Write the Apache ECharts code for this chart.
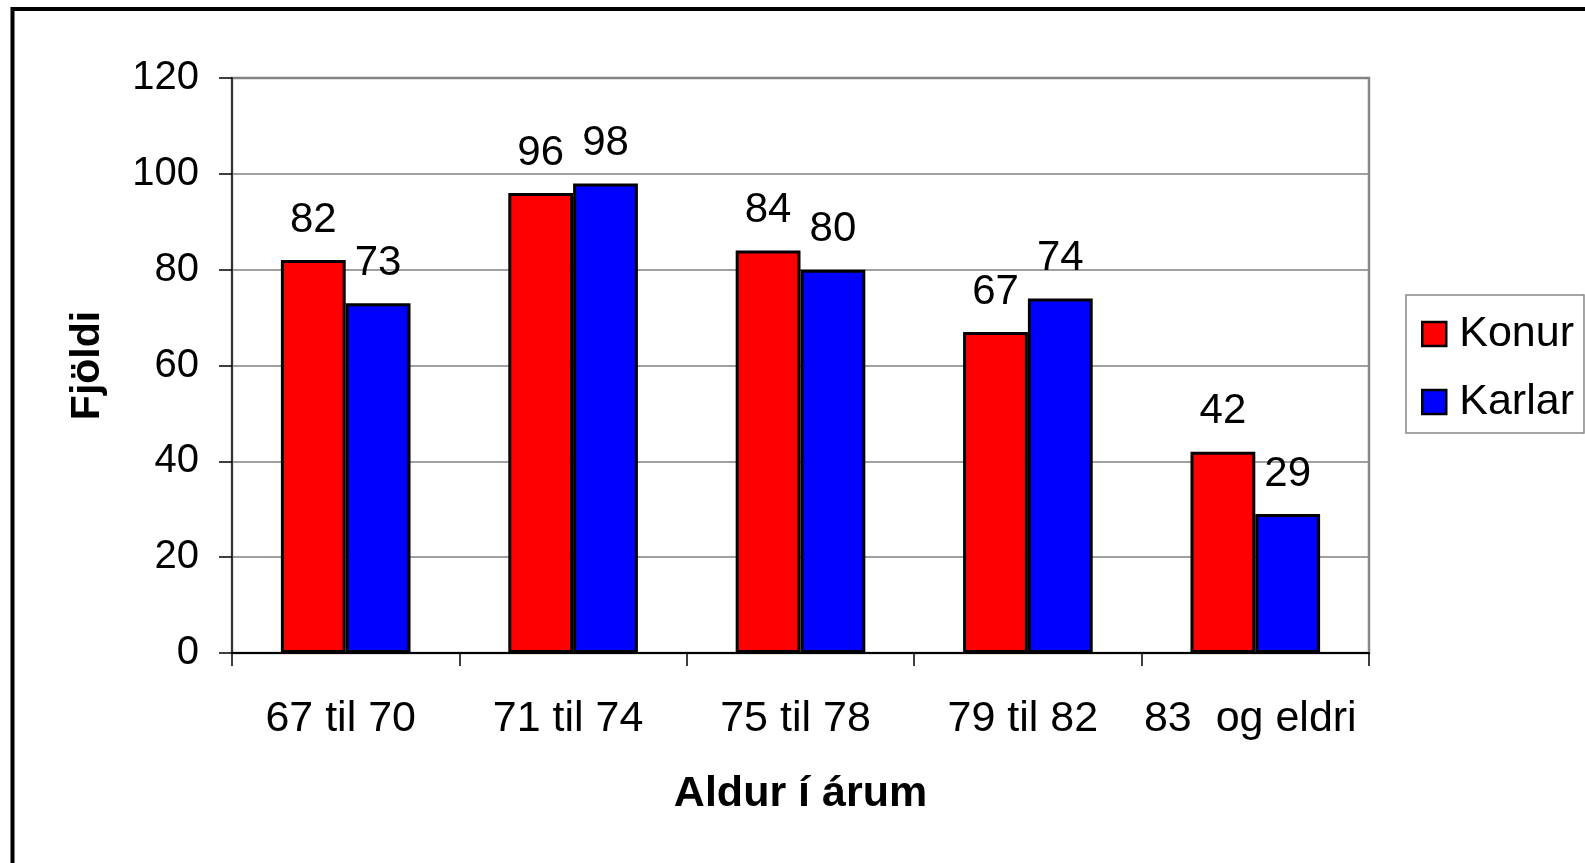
<!DOCTYPE html>
<html>
<head>
<meta charset="utf-8">
<script src="https://cdn.jsdelivr.net/npm/echarts@6/dist/echarts.min.js"></script>
<style>
html,body{margin:0;padding:0;background:#fff;}
#c{width:1585px;height:863px;}
</style>
</head>
<body>
<div id="c"></div>
<script>
const categories = ['67 til 70', '71 til 74', '75 til 78', '79 til 82', '83  og eldri'];
const konur = [82, 96, 84, 67, 42];
const karlar = [73, 98, 80, 74, 29];
const seriesNames = ['Konur', 'Karlar'];
const yTitle = 'Fjöldi';
const xTitle = 'Aldur í árum';

const FONT = '"Liberation Sans", Arial, sans-serif';
const chart = echarts.init(document.getElementById('c'));

const labelCfg = {
  show: true, position: 'top', distance: 19,
  color: '#000', fontSize: 42, fontFamily: FONT
};

chart.setOption({
  animation: false,
  backgroundColor: '#fff',
  graphic: [{
    type: 'rect', silent: true, z: 100,
    shape: { x: 12.5, y: 9, width: 1620, height: 900 },
    style: { fill: 'none', stroke: '#000', lineWidth: 4 }
  }],
  grid: {
    left: 232, top: 78, right: 216, bottom: 210,
    show: true, borderColor: '#888', borderWidth: 2.5, backgroundColor: 'transparent'
  },
  legend: {
    orient: 'vertical',
    left: 1406, top: 295,
    data: seriesNames,
    icon: 'rect',
    itemWidth: 24, itemHeight: 24,
    itemGap: 22,
    padding: [16, 10, 8, 15],
    borderColor: '#888', borderWidth: 1.5,
    itemStyle: { borderColor: '#000', borderWidth: 2.5 },
    textStyle: { fontSize: 43, fontFamily: FONT, color: '#000', lineHeight: 46, padding: [0, 0, 0, 8] }
  },
  xAxis: {
    type: 'category',
    data: categories,
    name: xTitle,
    nameLocation: 'middle',
    nameGap: 120,
    nameTextStyle: { fontSize: 43, fontWeight: 'bold', fontFamily: FONT, color: '#000' },
    axisLine: { lineStyle: { color: '#000', width: 2 } },
    axisTick: { show: true, length: 13, interval: 0, lineStyle: { color: '#000', width: 1.5 } },
    axisLabel: { fontSize: 43, fontFamily: FONT, color: '#000', margin: 45, interval: 0, padding: [0, 10, 0, 0] }
  },
  yAxis: {
    type: 'value',
    min: 0, max: 120, interval: 20,
    name: yTitle,
    nameLocation: 'middle',
    nameGap: 124,
    nameRotate: 90,
    nameTextStyle: { fontSize: 41, fontWeight: 'bold', fontFamily: FONT, color: '#000' },
    axisLine: { show: true, lineStyle: { color: '#333', width: 2 } },
    axisTick: { show: true, length: 13, lineStyle: { color: '#000', width: 1.5 } },
    axisLabel: { fontSize: 40, fontFamily: FONT, color: '#000', margin: 33 },
    splitLine: { lineStyle: { color: '#808080', width: 1.5 } }
  },
  series: [
    {
      name: seriesNames[0], type: 'bar', data: konur,
      barGap: '0%', barCategoryGap: '43%',
      itemStyle: { color: '#ff0000', borderColor: '#000', borderWidth: 3 },
      label: labelCfg
    },
    {
      name: seriesNames[1], type: 'bar', data: karlar,
      barGap: '0%', barCategoryGap: '43%',
      itemStyle: { color: '#0000ff', borderColor: '#000', borderWidth: 3 },
      label: labelCfg
    }
  ]
});
</script>
</body>
</html>
